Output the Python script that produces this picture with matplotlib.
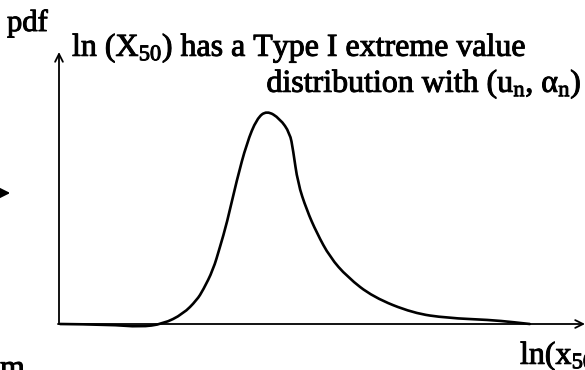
import matplotlib

matplotlib.use("Agg")

import matplotlib.pyplot as plt
import matplotlib.patheffects as pe
from matplotlib.patches import FancyArrowPatch, PathPatch
from matplotlib.path import Path

# pdf sketch of ln(X50): a right-skewed Type I (Gumbel) shape
ln_x = [0.02, 0.97, 1.54, 1.98, 2.36, 2.62, 2.74, 2.93, 3.06, 3.19, 3.38,
        3.57, 3.76, 3.95, 4.20, 4.39, 4.45, 4.54, 4.71, 4.90, 5.15, 5.48,
        5.97, 6.73, 7.38, 8.19, 8.63, 8.95]
pdf = [0.000, -0.002, -0.011, 0.000, 0.037, 0.088, 0.125, 0.199, 0.283,
       0.370, 0.529, 0.665, 0.755, 0.785, 0.755, 0.702, 0.640, 0.518,
       0.419, 0.335, 0.246, 0.173, 0.099, 0.040, 0.022, 0.015, 0.007, 0.000]

title_line1 = "ln (X$_{50}$) has a Type I extreme value"
title_line2 = r"distribution with (u$_n$, $\alpha_n$)"
y_label = "pdf"
x_label = "ln(x$_{50}$)"

SERIF = "Liberation Serif"
plt.rcParams["font.family"] = [SERIF, "DejaVu Serif"]
plt.rcParams["mathtext.fontset"] = "custom"
plt.rcParams["mathtext.rm"] = SERIF
plt.rcParams["mathtext.it"] = SERIF + ":italic"
plt.rcParams["mathtext.default"] = "rm"

W, H = 585, 370
fig = plt.figure(figsize=(W / 100, H / 100), dpi=100)


def fx(px):
    return px / W


def fy(py):
    return 1 - py / H


# axes origin at the corner of the two drawn axis lines
ax = fig.add_axes((fx(59), fy(324), fx(585) - fx(59), fy(52) - fy(324)))
ax.set_xlim(0, 10)
ax.set_ylim(0, 1)
ax.axis("off")

# smooth hand-drawn look: quadratic bezier with the sample points as controls
pts = list(zip(ln_x, pdf))
verts = [pts[0]]
codes = [Path.MOVETO]
for i in range(1, len(pts) - 2):
    mid = ((pts[i][0] + pts[i + 1][0]) / 2, (pts[i][1] + pts[i + 1][1]) / 2)
    verts += [pts[i], mid]
    codes += [Path.CURVE3, Path.CURVE3]
verts += [pts[-2], pts[-1]]
codes += [Path.CURVE3, Path.CURVE3]
ax.add_patch(PathPatch(Path(verts, codes), facecolor="none", edgecolor="black",
                       lw=1.9, capstyle="round", joinstyle="round",
                       clip_on=False))

arrow = dict(arrowstyle="->", color="black", lw=1.3, mutation_scale=14,
             shrinkA=0, shrinkB=0)
ax.annotate("", xy=(0, 1.0), xytext=(0, 0), xycoords="axes fraction",
            arrowprops=arrow)
ax.annotate("", xy=(1.0, 0), xytext=(-0.002, 0), xycoords="axes fraction",
            arrowprops=arrow)

fs = 23
ink = [pe.withStroke(linewidth=0.7, foreground="black")]
fig.text(fx(7), fy(31), y_label, fontsize=22, ha="left", va="baseline",
         path_effects=ink)
fig.text(fx(72), fy(56), title_line1, fontsize=fs, ha="left", va="baseline",
         path_effects=ink)
fig.text(fx(582), fy(92), title_line2, fontsize=fs, ha="right",
         va="baseline", path_effects=ink)
fig.text(fx(520), fy(364), x_label, fontsize=fs, ha="left", va="baseline",
         path_effects=ink)
fig.text(fx(0), fy(355), "m", fontsize=fs, ha="left", va="top",
         path_effects=ink)

# head of an arrow coming in from the left edge
fig.add_artist(FancyArrowPatch(
    (fx(-20), fy(193)), (fx(13), fy(193)), transform=fig.transFigure,
    arrowstyle="-|>", mutation_scale=24, color="black", lw=1.5))

fig.savefig("out.png", dpi=100)
